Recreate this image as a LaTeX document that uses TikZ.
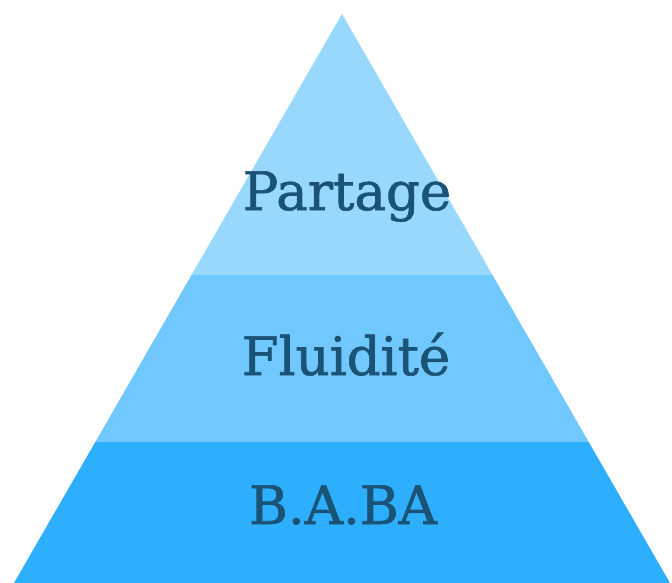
\documentclass[tikz,border=0pt]{standalone}
\usepackage{fontspec}
\setmainfont{DejaVu Serif}[FakeBold=1.2]
\definecolor{topc}{RGB}{153,216,253}
\definecolor{midc}{RGB}{112,200,254}
\definecolor{botc}{RGB}{46,175,254}
\definecolor{txt}{RGB}{26,83,117}
\tikzset{label/.style={anchor=base,text=txt,font=\fontsize{53}{58}\selectfont,inner sep=0pt}}
\begin{document}
\begin{tikzpicture}[x=1pt,y=-1pt]
\useasboundingbox (0,0) rectangle (672,583);
\fill[topc] (342,14) -- (492.5,275) -- (191.5,275) -- cycle;
\fill[midc] (191.5,275) -- (492.5,275) -- (588.7,442) -- (95.3,442) -- cycle;
\fill[botc] (95.3,442) -- (588.7,442) -- (670,583) -- (14,583) -- cycle;
\node[label] (p) at (347,210) {Partage};
\node[label] (f) at (346,375) {Fluidité};
\node[label] (b) at (343,524) {B.A.BA};
\end{tikzpicture}
\end{document}
